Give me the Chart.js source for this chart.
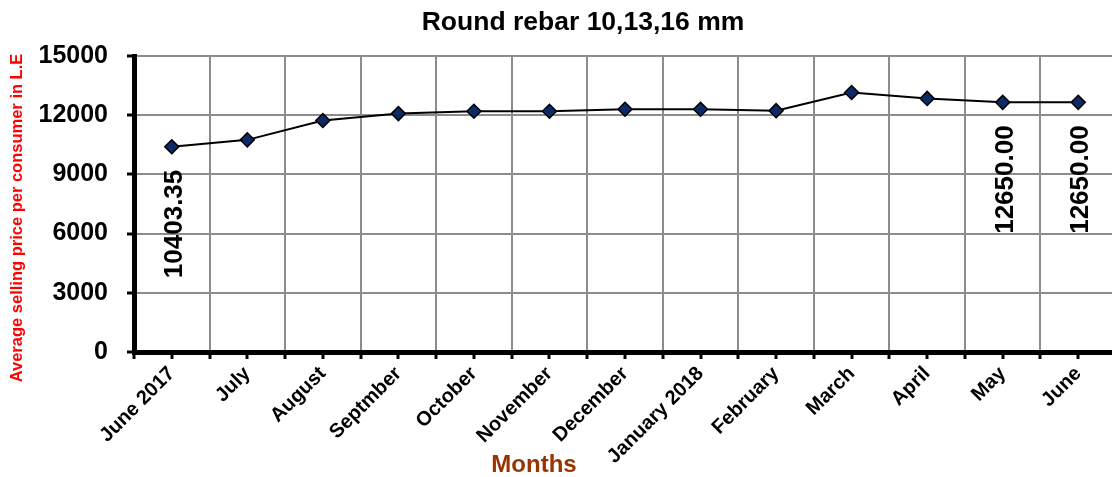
<!DOCTYPE html>
<html>
<head>
<meta charset="utf-8">
<script src="https://cdn.jsdelivr.net/npm/chart.js@4.4.1/dist/chart.umd.min.js"></script>
<style>
  html, body { margin: 0; padding: 0; background: #ffffff; }
  #wrap { width: 1112px; height: 477px; position: relative; }
</style>
</head>
<body>
<div id="wrap"><canvas id="c" width="1112" height="477"></canvas></div>
<script>
// ---- data ----
const chartTitle = 'Round rebar 10,13,16 mm';
const xTitle = 'Months';
const yTitle = 'Average selling price per consumer in L.E';
const categories = ['June 2017', 'July', 'August', 'Septmber', 'October', 'November', 'December', 'January 2018', 'February', 'March', 'April', 'May', 'June'];
const prices = [10403.35, 10750, 11730, 12080, 12200, 12200, 12300, 12300, 12230, 13150, 12850, 12650, 12650];
const yTicks = [0, 3000, 6000, 9000, 12000, 15000];
const labelledPoints = [0, 11, 12];

const FONT = "'Liberation Sans', Arial, sans-serif";

// the reference plot area runs a few pixels past the right edge of the picture
const extendRight = {
  id: 'extendRight',
  afterLayout(chart) {
    const ext = 4;
    const xs = chart.scales.x;
    xs.right += ext;
    xs.width += ext;
    xs.configure();
    chart.chartArea.right += ext;
    chart.chartArea.width += ext;
  }
};

const overlay = {
  id: 'overlay',
  afterDraw(chart) {
    const ctx = chart.ctx;
    const xs = chart.scales.x;
    const area = chart.chartArea;
    ctx.save();
    // minor ticks at category centres
    ctx.strokeStyle = '#000000';
    ctx.lineWidth = 3;
    categories.forEach((c, i) => {
      const x = Math.round(xs.getPixelForValue(i));
      ctx.beginPath();
      ctx.moveTo(x, area.bottom);
      ctx.lineTo(x, area.bottom + 7);
      ctx.stroke();
    });
    // chart title
    ctx.fillStyle = '#000000';
    ctx.font = 'bold 26.5px ' + FONT;
    ctx.textAlign = 'center';
    ctx.textBaseline = 'alphabetic';
    ctx.fillText(chartTitle, 583, 30);
    // x axis title
    ctx.fillStyle = '#993300';
    ctx.font = 'bold 24px ' + FONT;
    ctx.fillText(xTitle, 534, 472);
    // y axis title
    ctx.save();
    ctx.translate(17, 218);
    ctx.rotate(-Math.PI / 2);
    ctx.fillStyle = '#ff0000';
    ctx.font = 'bold 16.5px ' + FONT;
    ctx.textBaseline = 'middle';
    ctx.fillText(yTitle, 0, 0);
    ctx.restore();
    // data labels
    const meta = chart.getDatasetMeta(0);
    ctx.fillStyle = '#000000';
    ctx.font = 'bold 26px ' + FONT;
    ctx.textAlign = 'right';
    ctx.textBaseline = 'middle';
    labelledPoints.forEach(i => {
      const p = meta.data[i];
      ctx.save();
      ctx.translate(p.x + 3, p.y + 23);
      ctx.rotate(-Math.PI / 2);
      ctx.fillText(prices[i].toFixed(2), 0, 0);
      ctx.restore();
    });
    ctx.restore();
  }
};

new Chart(document.getElementById('c'), {
  type: 'line',
  data: {
    labels: categories,
    datasets: [{
      data: prices,
      borderColor: '#000000',
      borderWidth: 2,
      pointStyle: 'rectRot',
      pointRadius: 7,
      pointHoverRadius: 7,
      pointBackgroundColor: '#0b2a66',
      pointBorderColor: '#000000',
      pointBorderWidth: 1.5,
      tension: 0,
      fill: false
    }]
  },
  options: {
    responsive: false,
    animation: false,
    events: [],
    layout: { autoPadding: false, padding: { left: 0, right: 0, top: 56, bottom: 0 } },
    plugins: {
      legend: { display: false },
      title: { display: false },
      tooltip: { enabled: false }
    },
    scales: {
      x: {
        type: 'category',
        offset: true,
        grid: {
          offset: true,
          color: '#8c8c8c',
          lineWidth: 2,
          drawTicks: true,
          tickLength: 7,
          tickWidth: 3,
          tickColor: '#000000'
        },
        border: { display: true, color: '#000000', width: 5 },
        ticks: {
          autoSkip: false,
          maxRotation: 45,
          minRotation: 45,
          padding: 3,
          color: '#000000',
          font: { family: FONT, size: 20, weight: 'bold' }
        },
        afterFit(scale) { scale.height = 125; }
      },
      y: {
        min: 0,
        max: 15000,
        afterBuildTicks(scale) { scale.ticks = yTicks.map(v => ({ value: v })); },
        grid: {
          color: '#8c8c8c',
          lineWidth: 2,
          drawTicks: true,
          tickLength: 7,
          tickWidth: 3,
          tickColor: '#000000'
        },
        border: { display: true, color: '#000000', width: 5 },
        ticks: {
          padding: 19,
          color: '#000000',
          font: { family: FONT, size: 25, weight: 'bold' },
          callback: (v) => String(v)
        },
        title: { display: false },
        afterFit(scale) { scale.width = 134; }
      }
    }
  },
  plugins: [extendRight, overlay]
});
</script>
</body>
</html>
